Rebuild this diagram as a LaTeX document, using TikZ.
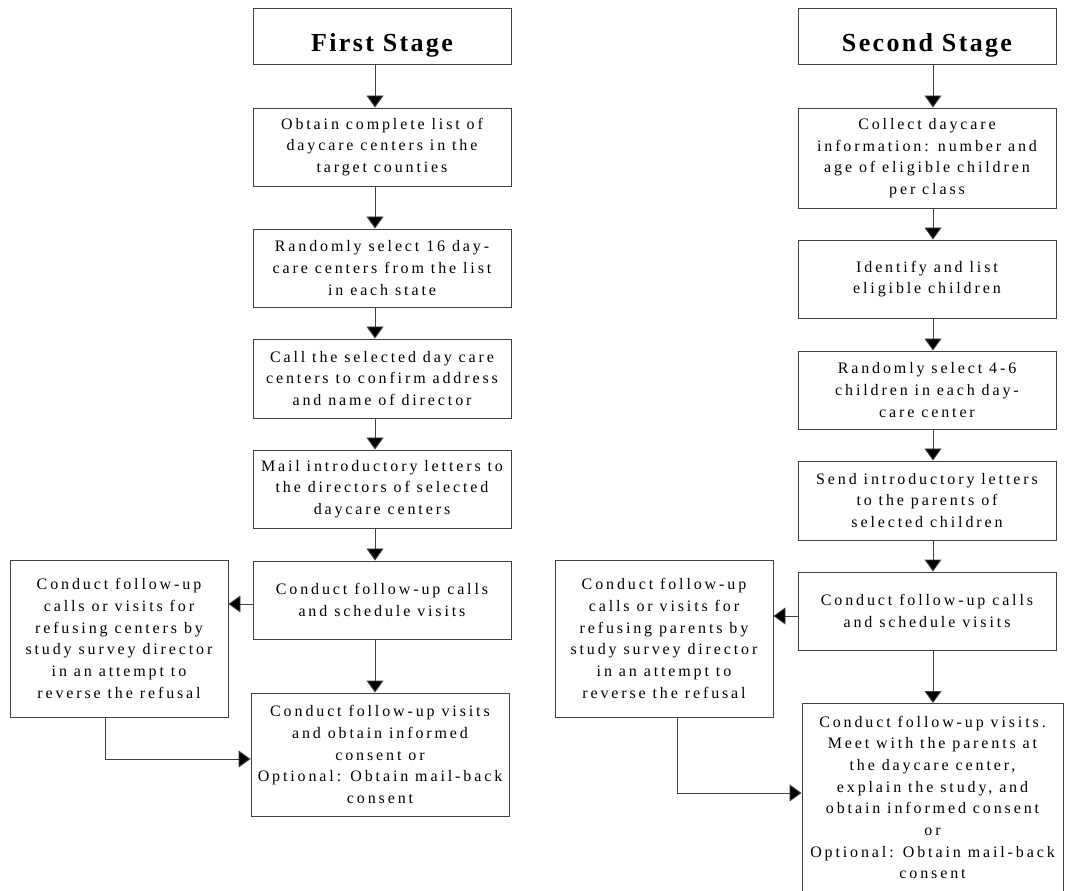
\documentclass[tikz,border=0pt]{standalone}
\usepackage{fontspec}
\setmainfont{Liberation Serif}[LetterSpace=18,Ligatures=NoCommon]
\newfontfamily\titlefont{Liberation Serif}[LetterSpace=9,Ligatures=NoCommon]
\usetikzlibrary{arrows.meta}
\tikzset{
  box/.style={draw=black!75, line width=0.7pt, rectangle, inner sep=0pt, align=center,
    font=\fontsize{12}{16.25}\selectfont, minimum width=193.5pt},
  titlebox/.style={box, minimum height=42pt, text height=24pt, text depth=0pt,
    font=\titlefont\bfseries\fontsize{19.5}{20}\selectfont},
  plain/.style={inner sep=0pt, align=center, font=\fontsize{12}{16.25}\selectfont},
  arr/.style={draw=black!75, line width=0.7pt, -{Triangle[width=12.75pt,length=9pt,fill=black]}},
}
\begin{document}
\begin{tikzpicture}[x=0.75pt,y=-0.75pt]
\useasboundingbox (0,0) rectangle (1083,891);
% left column
\node[titlebox] (S1) at (382,36) {First Stage};
\node[box, minimum height=58.5pt] (A1) at (382,147) {Obtain complete list of\\daycare centers in the\\target counties};
\node[box, minimum height=58.5pt] (A2) at (382,268) {Randomly select 16 day-\\care centers from the list\\in each state};
\node[box, minimum height=59.25pt] (A3) at (382,378.5) {Call the selected day care\\centers to confirm address\\and name of director};
\node[box, minimum height=58.5pt] (A4) at (382,489) {Mail introductory letters to\\the directors of selected\\daycare centers};
\node[box, minimum height=58.5pt] (A5) at (382,600) {Conduct follow-up calls\\and schedule visits};
\node[box, minimum width=163.5pt, minimum height=117.75pt] (R1) at (119,638.5) {Conduct follow-up\\calls or visits for\\refusing centers by\\study survey director\\in an attempt to\\reverse the refusal};
\node[box, minimum height=92.25pt] (F1) at (380,754.5) {Conduct follow-up visits\\and obtain informed\\consent or\\Optional: Obtain mail-back\\consent};
% right column
\node[titlebox] (S2) at (927,36) {Second Stage};
\node[box, minimum height=75pt] (B1) at (927,158) {Collect daycare\\information: number and\\age of eligible children\\per class};
\node[box, minimum height=58.5pt] (B2) at (927,279) {Identify and list\\eligible children};
\node[box, minimum height=58.5pt] (B3) at (927,390) {Randomly select 4-6\\children in each day-\\care center};
\node[box, minimum height=59.25pt] (B4) at (927,500.5) {Send introductory letters\\to the parents of\\selected children};
\node[box, minimum height=58.5pt] (B5) at (927,611) {Conduct follow-up calls\\and schedule visits};
\node[box, minimum width=163.5pt, minimum height=117.75pt] (R2) at (664,638.5) {Conduct follow-up\\calls or visits for\\refusing parents by\\study survey director\\in an attempt to\\reverse the refusal};
\node[box, minimum width=195.75pt, minimum height=150pt, anchor=north] (F2) at (932.5,703) {};
\node[plain] (F2t) at (932.5,797.5) {Conduct follow-up visits.\\Meet with the parents at\\the daycare center,\\explain the study, and\\obtain informed consent\\or\\Optional: Obtain mail-back\\consent};
% guide coordinates
\coordinate (lx) at (375,0);
\coordinate (rx) at (933,0);
\coordinate (ly) at (0,604);
\coordinate (ry) at (0,616);
\coordinate (lb) at (105,759);
\coordinate (rb) at (677,793);
% left arrows
\draw[arr] (S1.south -| lx) -- (A1.north -| lx);
\draw[arr] (A1.south -| lx) -- (A2.north -| lx);
\draw[arr] (A2.south -| lx) -- (A3.north -| lx);
\draw[arr] (A3.south -| lx) -- (A4.north -| lx);
\draw[arr] (A4.south -| lx) -- (A5.north -| lx);
\draw[arr] (A5.south -| lx) -- (F1.north -| lx);
\draw[arr] (A5.west |- ly) -- (R1.east |- ly);
\draw[arr] (R1.south -| lb) -- (lb) -- (F1.west |- lb);
% right arrows
\draw[arr] (S2.south -| rx) -- (B1.north -| rx);
\draw[arr] (B1.south -| rx) -- (B2.north -| rx);
\draw[arr] (B2.south -| rx) -- (B3.north -| rx);
\draw[arr] (B3.south -| rx) -- (B4.north -| rx);
\draw[arr] (B4.south -| rx) -- (B5.north -| rx);
\draw[arr] (B5.south -| rx) -- (F2.north -| rx);
\draw[arr] (B5.west |- ry) -- (R2.east |- ry);
\draw[arr] (R2.south -| rb) -- (rb) -- (F2.west |- rb);
\end{tikzpicture}
\end{document}
